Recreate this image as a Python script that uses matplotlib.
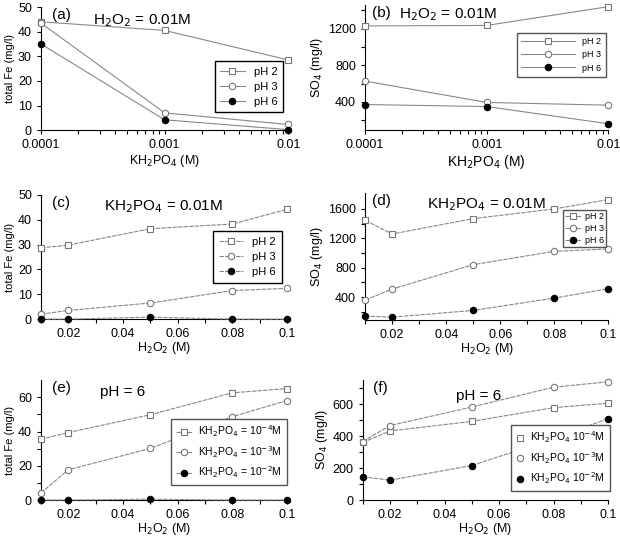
import numpy as np
import matplotlib.pyplot as plt
from matplotlib.ticker import MultipleLocator, FixedLocator, NullFormatter, FuncFormatter

plt.rcParams['font.family'] = ['Liberation Sans', 'DejaVu Sans']

# (a), (b): vs KH2PO4 at H2O2 = 0.01M
kh2po4 = [0.0001, 0.001, 0.01]
fe_a = {'pH 2': [44, 40.5, 28.5], 'pH 3': [43.5, 7, 2.3], 'pH 6': [35, 4.2, 0.2]}
so4_b = {'pH 2': [1230, 1235, 1440], 'pH 3': [626, 393, 363], 'pH 6': [370, 348, 160]}

# (c), (d): vs H2O2 at KH2PO4 = 0.01M
h2o2 = [0.01, 0.02, 0.05, 0.08, 0.1]
fe_c = {'pH 2': [28.7, 29.8, 36.4, 38.3, 44.2],
        'pH 3': [2.0, 3.5, 6.5, 11.5, 12.4],
        'pH 6': [0, 0, 0.8, 0, 0]}
so4_d = {'pH 2': [1445, 1259, 1468, 1600, 1727],
         'pH 3': [359, 509, 841, 1023, 1055],
         'pH 6': [141, 127, 218, 386, 514]}

# (e), (f): vs H2O2 at pH 6
fe_e = {'KH$_2$PO$_4$ = 10$^{-4}$M': [35.5, 39.4, 49.8, 62.6, 65.1],
        'KH$_2$PO$_4$ = 10$^{-3}$M': [4.1, 17.7, 30.1, 48.7, 58.1],
        'KH$_2$PO$_4$ = 10$^{-2}$M': [0, 0, 0.5, 0, 0]}
so4_f = {'KH$_2$PO$_4$ 10$^{-4}$M': [360, 432, 492, 578, 606],
         'KH$_2$PO$_4$ 10$^{-3}$M': [366, 466, 582, 706, 740],
         'KH$_2$PO$_4$ 10$^{-2}$M': [146, 124, 216, 384, 510]}

markers = [('s', 'white', '#777777'), ('o', 'white', '#777777'), ('o', 'black', 'black')]

fig = plt.figure(figsize=(6.2, 5.4), dpi=100)
ax_a = fig.add_axes([0.066, 0.759, 0.399, 0.228])
ax_b = fig.add_axes([0.589, 0.759, 0.392, 0.232])
ax_c = fig.add_axes([0.066, 0.409, 0.397, 0.230])
ax_d = fig.add_axes([0.589, 0.407, 0.392, 0.236])
ax_e = fig.add_axes([0.066, 0.074, 0.397, 0.222])
ax_f = fig.add_axes([0.585, 0.074, 0.396, 0.222])


def draw(ax, x, series, ls='-'):
    for (name, y), (m, fc, ec) in zip(series.items(), markers):
        ax.plot(x, y, ls=ls, color='#888888', lw=0.8, marker=m, ms=4.6,
                mfc=fc, mec=ec, mew=0.8, label=name, clip_on=False, zorder=3)


def style(ax):
    for s in ['top', 'right']:
        ax.spines[s].set_visible(False)
    ax.tick_params(labelsize=9, direction='out', length=3, width=0.8)
    ax.tick_params(which='minor', length=3, width=0.8)


def log_x(ax):
    ax.set_xscale('log')
    ax.set_xlim(0.0001, 0.01)
    ax.set_xticks([0.0001, 0.001, 0.01])
    ax.set_xticklabels(['0.0001', '0.001', '0.01'])
    ax.xaxis.set_minor_formatter(NullFormatter())
    ax.set_xlabel('KH$_2$PO$_4$ (M)', fontsize=9, labelpad=1)


def lin_x(ax):
    ax.set_xlim(0.01, 0.1)
    ax.xaxis.set_major_locator(FixedLocator([0.02, 0.04, 0.06, 0.08, 0.1]))
    ax.xaxis.set_minor_locator(FixedLocator([0.01, 0.03, 0.05, 0.07, 0.09]))
    ax.xaxis.set_major_formatter(FuncFormatter(lambda v, p: ('%.2f' % v).rstrip('0')))
    ax.set_xlabel('H$_2$O$_2$ (M)', fontsize=9, labelpad=0)


leg_kw = dict(fancybox=False, framealpha=1, borderpad=0.5, labelspacing=0.45)

# (a)
draw(ax_a, kh2po4, fe_a)
log_x(ax_a)
ax_a.set_ylim(0, 50)
ax_a.yaxis.set_major_locator(MultipleLocator(10))
ax_a.set_ylabel('total Fe (mg/l)', fontsize=8, labelpad=2)
ax_a.text(0.045, 0.99, '(a)', transform=ax_a.transAxes, fontsize=11, va='top')
ax_a.text(0.21, 0.96, 'H$_2$O$_2$ = 0.01M', transform=ax_a.transAxes, fontsize=11, va='top')
ax_a.legend(loc='lower right', bbox_to_anchor=(1.0, 0.1), fontsize=8, edgecolor='black',
            handlelength=2.2, **leg_kw)

# (b)
draw(ax_b, kh2po4, so4_b)
log_x(ax_b)
ax_b.set_xlabel('KH$_2$PO$_4$ (M)', fontsize=10, labelpad=1)
ax_b.set_ylim(90, 1460)
ax_b.yaxis.set_major_locator(FixedLocator([400, 800, 1200]))
ax_b.yaxis.set_minor_locator(FixedLocator([200, 600, 1000, 1400]))
ax_b.set_ylabel('SO$_4$ (mg/l)', fontsize=9, labelpad=2)
ax_b.text(0.03, 0.99, '(b)', transform=ax_b.transAxes, fontsize=11, va='top')
ax_b.text(0.14, 0.99, 'H$_2$O$_2$ = 0.01M', transform=ax_b.transAxes, fontsize=11, va='top')
ax_b.legend(loc='center right', bbox_to_anchor=(1.01, 0.6), fontsize=6.5, edgecolor='#555555',
            handlelength=6, **leg_kw)

# (c)
draw(ax_c, h2o2, fe_c, ls=(0, (4, 1)))
lin_x(ax_c)
ax_c.set_ylim(0, 50)
ax_c.yaxis.set_major_locator(MultipleLocator(10))
ax_c.set_ylabel('total Fe (mg/l)', fontsize=8, labelpad=2)
ax_c.text(0.045, 0.99, '(c)', transform=ax_c.transAxes, fontsize=11, va='top')
ax_c.text(0.255, 0.97, 'KH$_2$PO$_4$ = 0.01M', transform=ax_c.transAxes, fontsize=11, va='top')
ax_c.legend(loc='lower right', bbox_to_anchor=(1.0, 0.25), fontsize=8, edgecolor='black',
            handlelength=2.2, **leg_kw)

# (d)
draw(ax_d, h2o2, so4_d, ls=(0, (4, 1)))
lin_x(ax_d)
ax_d.set_ylim(85, 1820)
ax_d.yaxis.set_major_locator(FixedLocator([400, 800, 1200, 1600]))
ax_d.yaxis.set_minor_locator(FixedLocator([200, 600, 1000, 1400]))
ax_d.set_ylabel('SO$_4$ (mg/l)', fontsize=9, labelpad=2)
ax_d.text(0.03, 0.99, '(d)', transform=ax_d.transAxes, fontsize=11, va='top')
ax_d.text(0.255, 0.97, 'KH$_2$PO$_4$ = 0.01M', transform=ax_d.transAxes, fontsize=11, va='top')
ax_d.legend(loc='upper right', bbox_to_anchor=(1.01, 0.9), fontsize=6.5, fancybox=False,
            edgecolor='#555555', handlelength=1.8, framealpha=1, borderpad=0.25,
            labelspacing=0.3, handletextpad=0.4)

# (e)
draw(ax_e, h2o2, fe_e, ls=(0, (4, 1)))
lin_x(ax_e)
ax_e.set_ylim(0, 70)
ax_e.yaxis.set_major_locator(FixedLocator([0, 20, 40, 60]))
ax_e.yaxis.set_minor_locator(FixedLocator([10, 30, 50]))
ax_e.set_ylabel('total Fe (mg/l)', fontsize=8, labelpad=2)
ax_e.text(0.045, 0.99, '(e)', transform=ax_e.transAxes, fontsize=11, va='top')
ax_e.text(0.24, 0.96, 'pH = 6', transform=ax_e.transAxes, fontsize=11, va='top')
ax_e.legend(loc='lower right', bbox_to_anchor=(1.02, 0.08), fontsize=7.5, edgecolor='#555555',
            handlelength=1.5, handletextpad=0.6, **leg_kw)

# (f)
draw(ax_f, h2o2, so4_f, ls=(0, (4, 1)))
lin_x(ax_f)
ax_f.set_ylim(0, 750)
ax_f.yaxis.set_major_locator(FixedLocator([0, 200, 400, 600]))
ax_f.yaxis.set_minor_locator(FixedLocator([100, 300, 500, 700]))
ax_f.set_ylabel('SO$_4$ (mg/l)', fontsize=9, labelpad=2)
ax_f.text(0.04, 0.99, '(f)', transform=ax_f.transAxes, fontsize=11, va='top')
ax_f.text(0.38, 0.93, 'pH = 6', transform=ax_f.transAxes, fontsize=11, va='top')
handles, labels = ax_f.get_legend_handles_labels()
leg = ax_f.legend(handles, labels, loc='lower right', bbox_to_anchor=(1.03, 0.03), fontsize=7.5,
                  edgecolor='#555555', handlelength=0.8, handletextpad=0.6, **leg_kw)
for h in leg.legend_handles:
    h.set_linestyle('none')

for ax in [ax_a, ax_b, ax_c, ax_d, ax_e, ax_f]:
    style(ax)

fig.savefig('out.png', dpi=100)
